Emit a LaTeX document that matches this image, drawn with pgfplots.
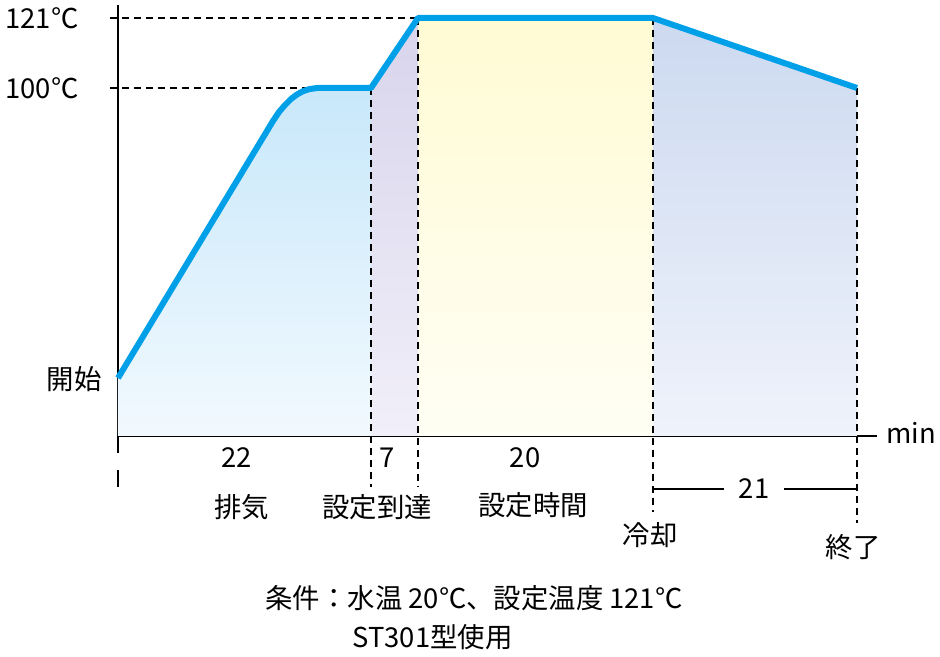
\documentclass[border=0pt]{standalone}
\usepackage{pgfplots}
\pgfplotsset{compat=1.18}
\usepackage{fontspec}
\setmainfont{Noto Sans CJK JP}

\definecolor{curve}{RGB}{0,160,233}
\definecolor{aTop}{HTML}{C8E8FA}
\definecolor{aBot}{HTML}{F2F9FE}
\definecolor{bTop}{HTML}{D8D4EC}
\definecolor{bBot}{HTML}{F1EFF9}
\definecolor{cTop}{HTML}{FFFBD4}
\definecolor{cBot}{HTML}{FFFEF4}
\definecolor{dTop}{HTML}{CCD9F0}
\definecolor{dBot}{HTML}{EFF3FB}

% x, y in picture pixels: y measured up from the time axis
\begin{document}
\begin{tikzpicture}[font=\fontsize{27.5}{33}\selectfont]
\begin{axis}[
    x=1bp, y=1bp,
    xmin=118, xmax=877, ymin=0, ymax=431,
    enlargelimits=false,
    axis lines=left,
    axis line style={-, line width=1.4bp, black},
    ticks=none,
    clip=false,
]
% shaded phases
\addplot[draw=none, top color=aTop, bottom color=aBot] coordinates {
    (118,58) (273,315) (279,324) (285,331) (291,337) (297,341.5) (303,344.8)
    (309,346.8) (317,348) (371,348)} \closedcycle;
\addplot[draw=none, top color=bTop, bottom color=bBot] coordinates {
    (371,348) (418,418)} \closedcycle;
\addplot[draw=none, top color=cTop, bottom color=cBot] coordinates {
    (418,418) (653,418)} \closedcycle;
\addplot[draw=none, top color=dTop, bottom color=dBot] coordinates {
    (653,418) (857,348)} \closedcycle;

% guide lines
\pgfplotsset{guide/.style={black, line width=1.3bp, dash pattern=on 7bp off 5bp, forget plot}}
\addplot[guide] coordinates {(110,348) (317,348)};
\addplot[guide] coordinates {(110,418) (418,418)};
\addplot[guide] coordinates {(371,348) (371,-51)};
\addplot[guide] coordinates {(418,418) (418,-51)};
\addplot[guide] coordinates {(653,418) (653,-76)};
\addplot[guide] coordinates {(857,348) (857,-87)};

% temperature curve
\addplot[curve, line width=6bp, line join=round] coordinates {
    (118,58) (273,315) (279,324) (285,331) (291,337) (297,341.5) (303,344.8)
    (309,346.8) (317,348) (371,348)
    (418,418) (653,418) (857,348)};

% marks below the origin
\draw[line width=1.4bp] (axis cs:118,0) -- (axis cs:118,-17);
\draw[line width=1.4bp] (axis cs:118,-34) -- (axis cs:118,-51);
% 21 min bracket
\draw[line width=1.3bp] (axis cs:653,-53) -- (axis cs:724,-53);
\draw[line width=1.3bp] (axis cs:784,-53) -- (axis cs:857,-53);

% labels
\node[anchor=east] at (axis cs:82,418) {121℃};
\node[anchor=east] at (axis cs:82,348) {100℃};
\node[anchor=east] at (axis cs:105,57) {開始};
\node[anchor=west] at (axis cs:883,3) {min};

\node at (axis cs:237,-22) {22};
\node at (axis cs:387,-22) {7};
\node at (axis cs:525,-22) {20};
\node at (axis cs:754,-53) {21};

\node at (axis cs:242,-71) {排気};
\node at (axis cs:377,-71) {設定到達};
\node at (axis cs:533,-69) {設定時間};
\node at (axis cs:650,-99) {冷却};
\node at (axis cs:853,-111) {終了};

\node[anchor=west] at (axis cs:262,-162) {条件：水温 20℃、設定温度 121℃};
\node[anchor=west] at (axis cs:349,-201) {ST301型使用};

% page frame
\path (axis cs:0,-221) rectangle (axis cs:940,436);
\end{axis}
\end{tikzpicture}
\end{document}
